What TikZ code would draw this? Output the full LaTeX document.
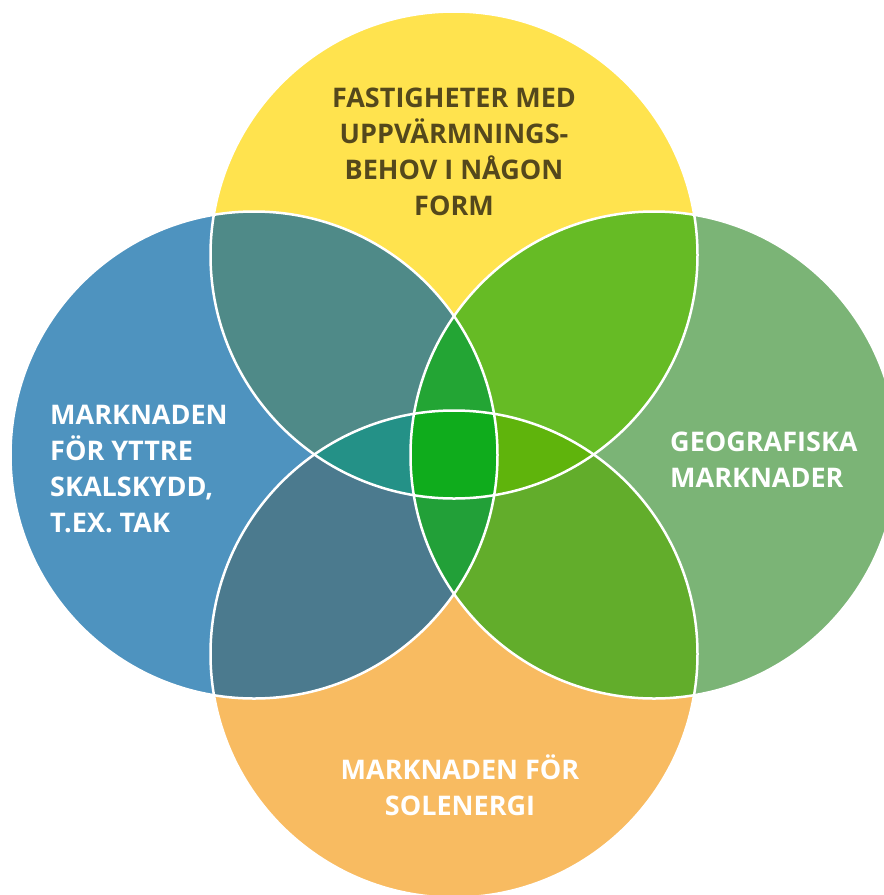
\documentclass[tikz,border=0pt]{standalone}
\usepackage{fontspec}
\setmainfont{Open Sans}
\usepackage{tikz}
\definecolor{yellowc}{HTML}{FFE34E}
\definecolor{bluec}{HTML}{4E93BF}
\definecolor{greenc}{HTML}{7BB476}
\definecolor{orangec}{HTML}{F8BB61}
\definecolor{topleftc}{HTML}{4F8A88}
\definecolor{toprightc}{HTML}{66BB25}
\definecolor{botleftc}{HTML}{4B7A8E}
\definecolor{botrightc}{HTML}{62AD2B}
\definecolor{westc}{HTML}{249187}
\definecolor{northc}{HTML}{23A534}
\definecolor{eastc}{HTML}{5FB40C}
\definecolor{southc}{HTML}{22A038}
\definecolor{centrec}{HTML}{0FAC1C}
\definecolor{darktext}{HTML}{54481C}

\begin{document}
\begin{tikzpicture}[x=1pt,y=-1pt,
  ring/.style={draw=white,line width=2.5pt},
  caption/.style={font=\fontsize{27}{36}\selectfont\bfseries,inner sep=0pt}]
\useasboundingbox (0,0) rectangle (884,895);
\def\rad{243.5pt}
\coordinate (T) at (454,255);
\coordinate (B) at (454,654);
\coordinate (L) at (254,455);
\coordinate (R) at (654,455);
% objects at depth 100:
\path[fill=yellowc] (T) circle[radius=\rad];
\path[fill=bluec] (L) circle[radius=\rad];
\path[fill=greenc] (R) circle[radius=\rad];
\path[fill=orangec] (B) circle[radius=\rad];
% objects at depth 80:
\begin{scope}
\clip (T) circle[radius=\rad];
\path[fill=topleftc] (L) circle[radius=\rad];
\path[fill=toprightc] (R) circle[radius=\rad];
\end{scope}
\begin{scope}
\clip (B) circle[radius=\rad];
\path[fill=botleftc] (L) circle[radius=\rad];
\path[fill=botrightc] (R) circle[radius=\rad];
\end{scope}
% objects at depth 60:
\begin{scope}
\clip (T) circle[radius=\rad];
\clip (L) circle[radius=\rad];
\path[fill=northc] (R) circle[radius=\rad];
\path[fill=westc] (B) circle[radius=\rad];
\end{scope}
\begin{scope}
\clip (B) circle[radius=\rad];
\clip (R) circle[radius=\rad];
\path[fill=southc] (L) circle[radius=\rad];
\path[fill=eastc] (T) circle[radius=\rad];
\end{scope}
% objects at depth 40:
\begin{scope}
\clip (T) circle[radius=\rad];
\clip (B) circle[radius=\rad];
\clip (L) circle[radius=\rad];
\path[fill=centrec] (R) circle[radius=\rad];
\end{scope}
% objects at depth 20:
\foreach \c in {T,L,R,B}
  \path[ring] (\c) circle[radius=\rad];
% objects at depth 0:
\node[caption,text=darktext,align=center] (heat) at (454,152)
  {FASTIGHETER MED\\UPPVÄRMNINGS-\\BEHOV I NÅGON\\FORM};
\node[caption,text=white,align=left,anchor=west] (roof) at (50,469)
  {MARKNADEN\\FÖR YTTRE\\SKALSKYDD,\\T.EX. TAK};
\node[caption,text=white,align=left,anchor=west] (geo) at (670,460)
  {GEOGRAFISKA\\MARKNADER};
\node[caption,text=white,align=center] (solar) at (460,785)
  {MARKNADEN FÖR\\SOLENERGI};
\end{tikzpicture}
\end{document}
